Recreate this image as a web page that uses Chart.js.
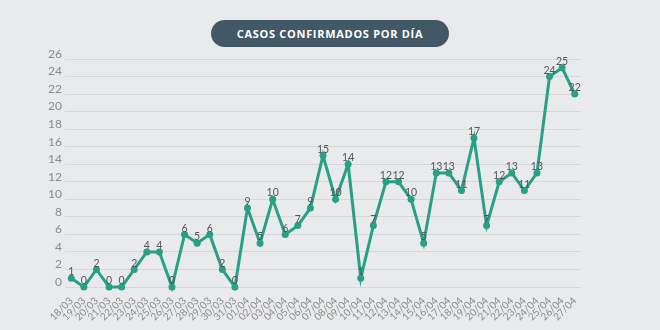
<!DOCTYPE html>
<html>
<head>
<meta charset="utf-8">
<script src="https://cdn.jsdelivr.net/npm/chart.js@4"></script>
<style>
  html, body { margin: 0; padding: 0; }
  body { width: 660px; height: 330px; background: #e9eaec; position: relative; overflow: hidden; font-family: "Open Sans", sans-serif; }
  .titulo {
    position: absolute; left: 211px; top: 20px; width: 238px; height: 27px;
    background: #435866; border-radius: 14px; color: #fff;
    font-weight: 700; font-size: 11px; letter-spacing: 0.7px;
    text-align: center; line-height: 27px;
  }
  .chart-div { position: absolute; left: 0; top: 0; width: 660px; height: 330px; }
</style>
</head>
<body>
<div class="titulo">CASOS CONFIRMADOS POR DÍA</div>
<div class="chart-div"><canvas id="myChart" width="660" height="330"></canvas></div>
<script>
let fechas = ['18/03','19/03','20/03','21/03','22/03','23/03','24/03','25/03','26/03','27/03','28/03','29/03','30/03','31/03',
  '01/04','02/04','03/04','04/04','05/04','06/04','07/04','08/04','09/04','10/04','11/04','12/04','13/04','14/04',
  '15/04','16/04','17/04','18/04','19/04','20/04','21/04','22/04','23/04','24/04','25/04','26/04','27/04'];
let casos = [1,0,2,0,0,2,4,4,0,6,5,6,2,0,
  9,5,10,6,7,9,15,10,14,1,7,12,12,10,
  5,13,13,11,17,7,12,13,11,13,24,25,22];
let yMin = 0;
let yMax = 26;
let yPaso = 2;

// numeros encima de cada punto
const etiquetas = {
  id: 'etiquetas',
  afterDatasetsDraw(chart) {
    const ctx = chart.ctx;
    const meta = chart.getDatasetMeta(0);
    ctx.save();
    ctx.font = '10.5px Lato, sans-serif';
    ctx.fillStyle = '#555';
    ctx.textAlign = 'center';
    ctx.textBaseline = 'bottom';
    meta.data.forEach((pt, i) => {
      ctx.fillText(String(casos[i]), pt.x, pt.y - 1);
    });
    ctx.restore();
  }
};

const ctx = document.getElementById('myChart');

new Chart(ctx, {
  type: 'line',
  data: {
    labels: fechas,
    datasets: [{
      data: casos,
      borderColor: '#28a086',
      backgroundColor: '#28a086',
      borderWidth: 3,
      tension: 0,
      pointRadius: 3.5,
      pointBackgroundColor: '#28a086',
      pointBorderWidth: 0,
      clip: false
    }]
  },
  options: {
    responsive: false,
    animation: false,
    events: [],
    layout: { padding: { left: 0, right: 79, top: 59, bottom: 0 } },
    plugins: { legend: { display: false }, tooltip: { enabled: false } },
    scales: {
      x: {
        offset: true,
        grid: { display: false },
        border: { display: false },
        ticks: {
          color: '#8a8a8a',
          font: { size: 10, family: 'Lato, sans-serif' },
          maxRotation: 45,
          minRotation: 45,
          autoSkip: false,
          padding: 0
        },
        afterFit(scale) { scale.height = 43; }
      },
      y: {
        min: yMin,
        max: yMax,
        grid: { color: '#d6d7d9', drawTicks: false },
        border: { display: false },
        ticks: {
          stepSize: yPaso,
          color: '#8a8a8a',
          font: { size: 12, family: 'Lato, sans-serif' },
          padding: 3,
          labelOffset: -5
        },
        afterFit(scale) { scale.width = 65; }
      }
    }
  },
  plugins: [etiquetas]
});
</script>
</body>
</html>
